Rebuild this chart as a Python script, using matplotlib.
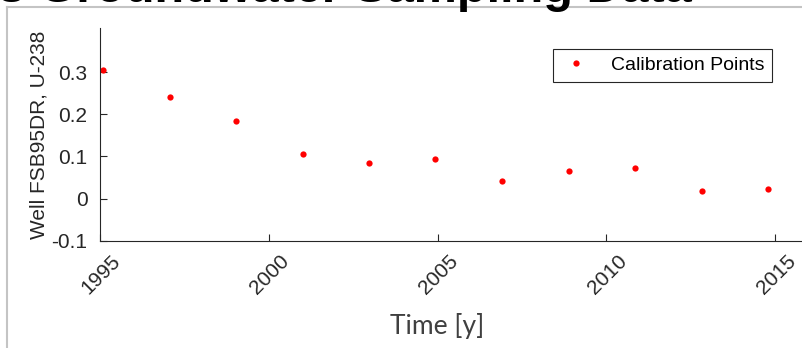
import matplotlib
matplotlib.use("Agg")
from matplotlib import pyplot as plt
from matplotlib.lines import Line2D
import matplotlib.transforms as mtransforms

# Calibration samples
years = [1995.1, 1997.07, 1999.03, 2001.0, 2002.96, 2004.93,
         2006.9, 2008.9, 2010.85, 2012.85, 2014.8]
u238 = [0.306, 0.241, 0.185, 0.105, 0.085, 0.095,
        0.041, 0.065, 0.073, 0.017, 0.022]

x_ticks = [1995, 2000, 2005, 2010, 2015]
y_ticks = [-0.1, 0, 0.1, 0.2, 0.3]
y_tick_labels = ['-0.1', '0', '0.1', '0.2', '0.3']

W, H = 802, 348
fig = plt.figure(figsize=(W / 100, H / 100), dpi=100)

# gray page frame around the figure
fig.add_artist(Line2D([7 / W, 7 / W], [0, 1 - 7 / H], color='#c4c4c4', lw=1.5))
fig.add_artist(Line2D([7 / W, 1], [1 - 7 / H, 1 - 7 / H], color='#c4c4c4', lw=1.5))

# clipped title at the very top
fig.text(-2 / W, 1 - 2 / H, "s Groundwater Sampling Data", fontsize=35,
         fontweight='bold', family='Liberation Sans', ha='left', va='baseline')

ax = fig.add_axes([100 / W, (H - 240.6) / H, (W - 100) / W, (240.6 - 28) / H])
ax.plot(years, u238, 'o', color='red', markersize=4.5, markeredgewidth=0,
        label='Calibration Points')

ax.set_xlim(1995, 2015.8)
ax.set_ylim(-0.1, 0.405)
ax.set_xticks(x_ticks)
ax.set_yticks(y_ticks)
ax.set_yticklabels(y_tick_labels)

for side in ['top', 'right']:
    ax.spines[side].set_visible(False)
for side in ['left', 'bottom']:
    ax.spines[side].set_color('#262626')
    ax.spines[side].set_linewidth(0.8)

ax.tick_params(axis='both', direction='in', length=5, width=0.8,
               colors='#262626', labelsize=15)
ax.tick_params(axis='y', pad=9)
ax.tick_params(axis='x', pad=4)

offset = mtransforms.ScaledTranslation(11 / 100, -5 / 100, fig.dpi_scale_trans)
for lbl in ax.get_xticklabels():
    lbl.set_family('Liberation Sans')
    lbl.set_rotation(45)
    lbl.set_rotation_mode('anchor')
    lbl.set_ha('right')
    lbl.set_va('top')
    lbl.set_transform(lbl.get_transform() + offset)
for lbl in ax.get_yticklabels():
    lbl.set_family('Liberation Sans')

fig.text(39 / W, (H - 135) / H, "Well FSB95DR, U-238", rotation=90,
         fontsize=15, family='Liberation Sans', color='#262626',
         ha='center', va='center')
fig.text(437 / W, (H - 334) / H, "Time [y]", fontsize=19, family='Lato',
         color='#404040', ha='center', va='baseline')

leg = ax.legend(loc='upper right', bbox_to_anchor=(772 / W, 1 - 49.3 / H),
                bbox_transform=fig.transFigure, prop={'family': 'Liberation Sans', 'size': 14},
                fancybox=False, framealpha=1, edgecolor='#262626',
                borderpad=0.38, handletextpad=1.0, handlelength=1.6,
                borderaxespad=0)
leg.get_frame().set_linewidth(0.8)

fig.savefig('out.png', dpi=100)
